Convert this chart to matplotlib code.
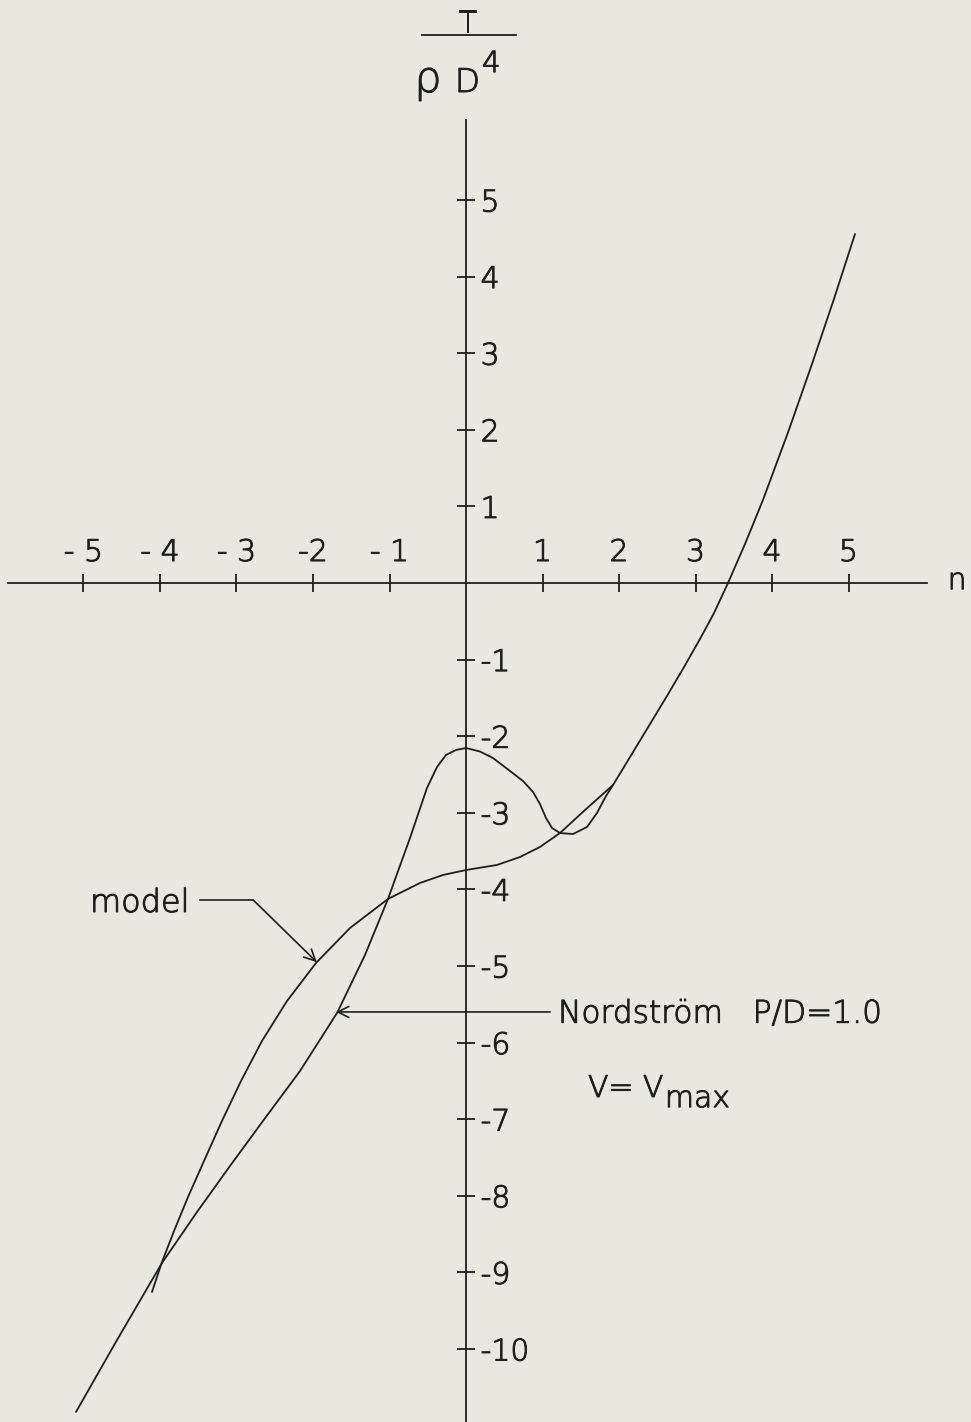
import matplotlib
matplotlib.use("Agg")
import matplotlib.pyplot as plt
import matplotlib.patheffects as pe

plt.rcParams['font.family'] = ['DejaVu Sans']

# Thrust coefficient T/(rho D^4) against n
nordstrom_n = [-5.098, -4.562, -3.974, -3.516, -3.085, -2.654, -2.170, -1.686,
               -1.320, -1.020, -0.732, -0.510, -0.379, -0.261, -0.131, 0.000,
               0.183, 0.353, 0.575, 0.745, 0.876, 0.967, 1.046, 1.124, 1.229,
               1.399, 1.582, 1.712, 1.830, 1.922, 2.144, 2.366, 2.627, 2.850,
               3.059, 3.242, 3.425, 3.647, 3.882, 4.209, 4.523, 4.810, 5.085]
nordstrom_t = [-10.822, -9.883, -8.877, -8.211, -7.611, -7.023, -6.371, -5.614,
               -4.856, -4.125, -3.329, -2.676, -2.402, -2.245, -2.180, -2.154,
               -2.200, -2.285, -2.454, -2.585, -2.728, -2.885, -3.068, -3.198,
               -3.264, -3.277, -3.185, -3.003, -2.781, -2.637, -2.272, -1.906,
               -1.475, -1.097, -0.731, -0.392, 0.000, 0.509, 1.084, 1.965,
               2.859, 3.708, 4.556]

model_n = [-4.105, -3.974, -3.817, -3.634, -3.425, -3.190, -2.941, -2.667,
           -2.340, -1.961, -1.516, -1.020, -0.601, -0.301, 0.000, 0.405,
           0.706, 0.967, 1.229, 1.556, 1.922]
model_t = [-9.256, -8.864, -8.460, -8.016, -7.546, -7.023, -6.501, -5.979,
           -5.457, -4.961, -4.504, -4.125, -3.916, -3.812, -3.747, -3.681,
           -3.577, -3.446, -3.264, -2.963, -2.637]

x_ticks = [-5, -4, -3, -2, -1, 1, 2, 3, 4, 5]
x_tick_labels = ['- 5', '- 4', '- 3', '-2', '- 1', '1', '2', '3', '4', '5']
y_ticks = [5, 4, 3, 2, 1, -1, -2, -3, -4, -5, -6, -7, -8, -9, -10]
y_tick_labels = ['5', '4', '3', '2', '1', '-1', '-2', '-3', '-4', '-5',
                 '-6', '-7', '-8', '-9', '-10']

INK = '#1e1e1e'
PAPER = '#e8e8de'
LW = 1.3
FS = 21.5
# thin lettering, thickened slightly with an outline stroke
LETTER = dict(color=INK, fontweight='light',
              path_effects=[pe.withStroke(linewidth=0.7, foreground=INK)])

fig = plt.figure(figsize=(9.71, 14.22), dpi=100, facecolor=PAPER)
ax = fig.add_axes([0, 0, 1, 1], facecolor=PAPER)
ax.set_xlim(-6.0915, 6.6013)
ax.set_ylim(-10.953, 7.611)

ax.plot(nordstrom_n, nordstrom_t, color=INK, lw=LW,
        solid_joinstyle='round', solid_capstyle='round')
ax.plot(model_n, model_t, color=INK, lw=LW,
        solid_joinstyle='round', solid_capstyle='round')

# Cross-shaped axes through the origin
for side in ('left', 'bottom'):
    ax.spines[side].set_visible(False)
ax.spines['right'].set_position(('data', 0))
ax.spines['top'].set_position(('data', 0))
ax.spines['right'].set_bounds(-10.953, 6.04)
ax.spines['top'].set_bounds(-5.99, 6.03)
for side in ('right', 'top'):
    ax.spines[side].set_color(INK)
    ax.spines[side].set_linewidth(LW)
ax.xaxis.set_ticks_position('top')
ax.yaxis.set_ticks_position('right')
ax.set_xticks(x_ticks, x_tick_labels)
ax.set_yticks(y_ticks, y_tick_labels)
ax.tick_params(direction='inout', length=13, width=LW, color=INK,
               labelsize=FS, labelcolor=INK)
ax.tick_params(axis='x', pad=5)
ax.tick_params(axis='y', pad=4)
for lbl in ax.get_xticklabels() + ax.get_yticklabels():
    lbl.set_fontweight(LETTER['fontweight'])
    lbl.set_path_effects(LETTER['path_effects'])

ax.text(6.42, 0.03, 'n', fontsize=FS, ha='center', va='center', **LETTER)

# Axis quantity T / (rho D^4)
ax.text(0.02, 7.19, 'T', fontsize=FS, ha='center', va='baseline', **LETTER)
ax.plot([-0.58, 0.66], [7.15, 7.15], color=INK, lw=LW)
ax.text(-0.497, 6.41, 'ρ', fontsize=31, ha='center', va='baseline', **LETTER)
ax.text(0.02, 6.41, 'D', fontsize=23.5, ha='center', va='baseline', **LETTER)
ax.text(0.209, 6.67, '4', fontsize=21, ha='left', va='baseline', **LETTER)

arrow = dict(arrowstyle='->', color=INK, lw=1.2, shrinkA=0, shrinkB=0,
             mutation_scale=20)

# "model" leader
ax.text(-4.915, -4.295, 'model', fontsize=23, ha='left', va='baseline',
        **LETTER)
ax.plot([-3.48, -2.78], [-4.14, -4.14], color=INK, lw=1.2)
ax.annotate('', xy=(-1.95, -4.95), xytext=(-2.78, -4.14), arrowprops=arrow)

# Nordström leader
ax.text(1.203, -5.74, 'Nordström   P/D=1.0', fontsize=22.5, ha='left',
        va='baseline', **LETTER)
ax.annotate('', xy=(-1.70, -5.60), xytext=(1.10, -5.60), arrowprops=arrow)

v = ax.text(1.595, -6.71, 'V= V', fontsize=FS, ha='left', va='baseline',
            **LETTER)
ax.annotate('max', xy=(1, 0), xycoords=v, xytext=(1, -3),
            textcoords='offset points', fontsize=FS, ha='left',
            va='baseline', **LETTER)

fig.savefig('out.png', dpi=100, facecolor=PAPER)
